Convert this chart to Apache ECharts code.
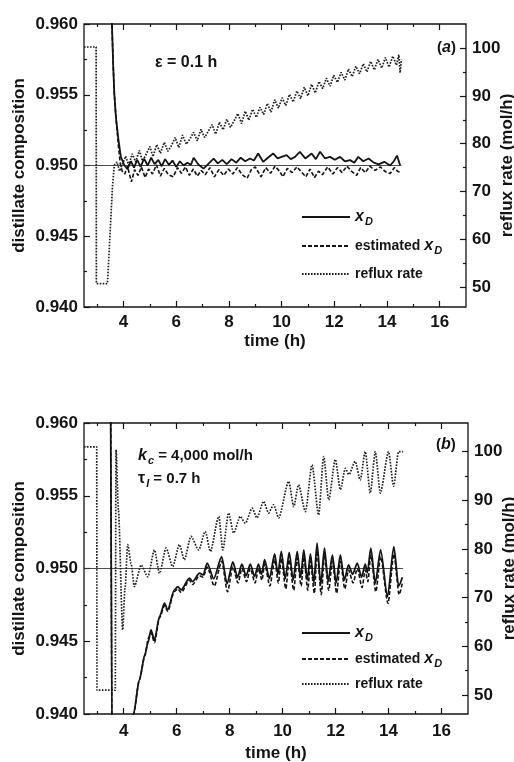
<!DOCTYPE html>
<html><head><meta charset="utf-8">
<script src="https://cdn.jsdelivr.net/npm/echarts@6/dist/echarts.min.js"></script>
<style>html,body{margin:0;padding:0;background:#fff}#c{width:514px;height:762px}</style>
</head><body><div id="c"></div>
<script>
// ---------- tick values ----------
const timeTicksMajor = [4, 6, 8, 10, 12, 14, 16];
const timeTicksMinor = [3, 5, 7, 9, 11, 13, 15];
const refluxTicksMajor = [50, 60, 70, 80, 90, 100];
const refluxTicksMinor = [55, 65, 75, 85, 95];

// ---------- panel (a) ----------
const setpointA = [[2.5, 0.950], [14.55, 0.950]];
const xdA = [[3.54,0.9625],[3.56,0.9600],[3.61,0.95698],[3.65,0.9551],[3.71,0.95344],[3.81,0.95179],[3.90,0.95061],[4.03,0.95002],
[4.15,0.94975],[4.28,0.95030],[4.40,0.94985],[4.52,0.95040],[4.65,0.94990],[4.78,0.95048],[4.92,0.95000],[5.05,0.95055],[5.18,0.95010],[5.32,0.95040],[5.45,0.94995],[5.58,0.95045],[5.72,0.95005],[5.86,0.95035],[6.00,0.94990],[6.14,0.95030],[6.28,0.95000],[6.42,0.95020],[6.56,0.95005],[6.66,0.95055],[6.85,0.95005],[7.04,0.94978],[7.22,0.95012],[7.42,0.95048],[7.58,0.95015],[7.75,0.95040],[7.92,0.95010],[8.10,0.95045],[8.28,0.95020],[8.45,0.95055],[8.62,0.95030],[8.80,0.95050],[8.95,0.95035],[9.11,0.95085],[9.30,0.95026],[9.48,0.95055],[9.68,0.95085],[9.85,0.95050],[10.00,0.95061],[10.19,0.95073],[10.35,0.95045],[10.50,0.95060],[10.69,0.95097],[10.90,0.95050],[11.14,0.95085],[11.30,0.95045],[11.46,0.95097],[11.65,0.95050],[11.84,0.95061],[12.02,0.95040],[12.22,0.95061],[12.40,0.95030],[12.60,0.95038],[12.76,0.95020],[12.91,0.95061],[13.10,0.95030],[13.30,0.95050],[13.50,0.95020],[13.68,0.95008],[13.90,0.95026],[14.12,0.95000],[14.26,0.95030],[14.38,0.95070],[14.50,0.95002]];
const estA = [[3.54,0.9625],[3.56,0.9600],[3.61,0.95698],[3.65,0.9551],[3.71,0.95344],[3.80,0.95150],[3.88,0.95010],[3.95,0.94960],
[4.05,0.94940],[4.15,0.94995],[4.30,0.94884],[4.42,0.94970],[4.55,0.94930],[4.68,0.94990],[4.82,0.94915],[4.95,0.94975],[5.10,0.94940],[5.25,0.95005],[5.40,0.94925],[5.55,0.94980],[5.70,0.94935],[5.89,0.94920],[6.05,0.94985],[6.20,0.94945],[6.35,0.94990],[6.50,0.94930],[6.65,0.94975],[6.80,0.94925],[6.95,0.94965],[7.10,0.94935],[7.28,0.94985],[7.45,0.94920],[7.62,0.94970],[7.80,0.94930],[7.98,0.94975],[8.15,0.94940],[8.32,0.94985],[8.50,0.94935],[8.69,0.94910],[8.85,0.94970],[9.00,0.94990],[9.22,0.94920],[9.40,0.94985],[9.58,0.94945],[9.75,0.94995],[9.92,0.94960],[10.05,0.94920],[10.22,0.94980],[10.40,0.94950],[10.58,0.94990],[10.75,0.94955],[10.92,0.94920],[11.08,0.94975],[11.25,0.94915],[11.40,0.94960],[11.55,0.94935],[11.75,0.94990],[11.95,0.94940],[12.12,0.94985],[12.30,0.94950],[12.48,0.94995],[12.65,0.94960],[12.85,0.94930],[13.00,0.94985],[13.18,0.94950],[13.35,0.94995],[13.55,0.94965],[13.75,0.94990],[13.95,0.94955],[14.12,0.94943],[14.28,0.94985],[14.40,0.94960],[14.52,0.94950]];
const refluxA = [[2.50,100.2],[2.96,100.2],[2.97,50.8],[3.39,50.8],[3.45,57.0],[3.52,64.7],[3.58,71.0],[3.65,75.5],[3.75,76.2],[3.85,74.3],
[3.95,75.6],[4.08,77.4],[4.20,75.5],[4.33,77.9],[4.46,76.2],[4.60,78.6],[4.72,76.4],[4.86,77.8],[5.00,79.4],[5.12,77.3],[5.26,79.8],[5.40,78.0],[5.55,80.3],[5.68,78.4],[5.82,79.6],[5.96,81.3],[6.10,79.2],[6.24,81.8],[6.38,79.9],[6.52,81.0],[6.66,82.4],[6.80,80.6],[6.94,83.0],[7.08,81.3],[7.22,82.6],[7.36,84.0],[7.50,82.0],[7.64,84.5],[7.78,82.9],[7.92,85.1],[8.06,83.4],[8.20,84.8],[8.34,86.3],[8.48,84.2],[8.62,86.8],[8.76,84.9],[8.90,87.2],[9.04,85.5],[9.18,87.6],[9.32,86.1],[9.46,88.4],[9.60,86.6],[9.74,89.2],[9.88,87.4],[10.02,89.6],[10.16,88.0],[10.30,90.3],[10.44,88.7],[10.58,91.0],[10.72,89.4],[10.86,91.8],[11.00,90.0],[11.14,92.4],[11.28,90.6],[11.42,93.0],[11.56,91.5],[11.70,93.7],[11.84,92.0],[11.98,94.3],[12.12,92.8],[12.26,94.9],[12.40,93.3],[12.54,95.6],[12.68,94.0],[12.82,96.2],[12.96,94.6],[13.10,96.7],[13.24,95.0],[13.38,97.2],[13.52,95.4],[13.66,97.6],[13.80,95.8],[13.94,98.0],[14.08,96.0],[14.22,98.3],[14.36,96.4],[14.45,98.6],[14.50,94.8],[14.55,97.6]];

// ---------- panel (b) ----------
const setpointB = [[2.5, 0.950], [14.55, 0.950]];
const xdB = [[3.50,0.9650],[3.57,0.9350],[4.20,0.9360],[4.37,0.9400],[4.59,0.94234],[4.80,0.94410],[4.91,0.94486],[5.03,0.94578],[5.16,0.94509],[5.35,0.94669],[5.54,0.94762],[5.66,0.94716],[5.91,0.94853],[6.04,0.94876],[6.17,0.94853],[6.48,0.94934],[6.60,0.94910],[6.86,0.94968],[7.00,0.94955],[7.15,0.95037],[7.40,0.94930],[7.70,0.95082],[7.90,0.94895],[8.12,0.95045],[8.30,0.94940],[8.46,0.95030],[8.62,0.94950],[8.78,0.95030],[8.94,0.94945],[9.09,0.95030],[9.20,0.94960],[9.32,0.95060],[9.50,0.94930],[9.70,0.95100],[9.82,0.94960],[9.95,0.95117],[10.10,0.94930],[10.25,0.95110],[10.40,0.94920],[10.55,0.95117],[10.68,0.94940],[10.80,0.95128],[10.93,0.94920],[11.05,0.95100],[11.18,0.94900],[11.30,0.95174],[11.44,0.94890],[11.58,0.95140],[11.72,0.94910],[11.88,0.95094],[12.02,0.94900],[12.18,0.95094],[12.33,0.94920],[12.49,0.95025],[12.64,0.94960],[12.82,0.95037],[12.98,0.94940],[13.12,0.95030],[13.20,0.94970],[13.33,0.95140],[13.50,0.94900],[13.70,0.95128],[13.96,0.94807],[14.20,0.95151],[14.38,0.94880],[14.52,0.94940]];
const estB = [[3.50,0.9650],[3.57,0.9350],[4.20,0.9360],[4.37,0.9400],[4.59,0.94234],[4.80,0.94400],[4.93,0.94520],[5.03,0.94560],[5.16,0.94490],[5.35,0.94660],[5.54,0.94745],[5.66,0.94705],[5.91,0.94840],[6.04,0.94860],[6.17,0.94835],[6.48,0.94920],[6.60,0.94890],[6.86,0.94950],[7.00,0.94940],[7.15,0.95010],[7.42,0.94880],[7.70,0.95050],[7.92,0.94840],[8.12,0.95010],[8.32,0.94900],[8.46,0.95000],[8.64,0.94910],[8.78,0.95000],[8.96,0.94900],[9.09,0.95000],[9.22,0.94920],[9.32,0.95030],[9.52,0.94880],[9.70,0.95060],[9.84,0.94900],[9.95,0.95070],[10.12,0.94860],[10.25,0.95060],[10.42,0.94850],[10.55,0.95070],[10.70,0.94880],[10.80,0.95080],[10.95,0.94850],[11.05,0.95050],[11.20,0.94830],[11.30,0.95120],[11.46,0.94820],[11.58,0.95090],[11.74,0.94850],[11.88,0.95050],[12.04,0.94830],[12.18,0.95050],[12.35,0.94860],[12.49,0.94990],[12.66,0.94900],[12.82,0.95000],[13.00,0.94870],[13.12,0.94990],[13.22,0.94910],[13.33,0.95090],[13.52,0.94840],[13.70,0.95080],[13.98,0.94760],[14.20,0.95100],[14.40,0.94820],[14.52,0.94900]];
const refluxB = [[2.50,101.0],[2.98,101.0],[2.99,51.0],[3.68,51.0],[3.71,100.4],[3.80,88.0],[3.96,63.4],[4.05,72.0],[4.15,80.9],[4.28,77.0],[4.40,72.3],[4.66,76.7],[4.91,74.3],[5.16,79.8],[5.35,75.0],[5.60,80.2],[5.85,76.4],[6.10,80.9],[6.29,77.8],[6.54,82.6],[6.83,79.8],[7.08,83.6],[7.27,79.5],[7.59,86.7],[7.74,79.8],[7.96,87.4],[8.15,83.3],[8.40,86.7],[8.59,85.3],[8.85,88.4],[9.03,86.4],[9.28,89.8],[9.47,87.4],[9.66,89.1],[9.85,86.4],[10.23,93.9],[10.42,88.7],[10.60,93.2],[10.86,87.7],[11.11,97.3],[11.36,87.0],[11.55,99.0],[11.74,90.1],[11.99,98.4],[12.18,92.2],[12.37,96.6],[12.50,95.3],[12.74,98.0],[12.93,94.2],[13.12,100.0],[13.31,91.5],[13.50,100.0],[13.69,91.5],[14.00,100.0],[14.19,92.9],[14.38,100.0],[14.55,100.0]];

// ---------- styling ----------
const FF = '"Liberation Sans", Arial, Helvetica, sans-serif';
const INK = '#141414';
const txt = {color: INK, fontFamily: FF, fontWeight: 'bold', fontSize: 17};
const tickLine = {color: INK, width: 1.2};

function xAxesFor(g, labelMargin, nameGap) {
  const base = {gridIndex: g, type: 'value', min: 2.5, max: 17, axisLine: {show: false}, splitLine: {show: false}};
  return [
    Object.assign({}, base, {position: 'bottom', name: 'time (h)', nameLocation: 'middle', nameGap: nameGap,
      nameMoveOverlap: false, nameTextStyle: txt,
      axisTick: {inside: true, length: 6, customValues: timeTicksMajor, lineStyle: tickLine},
      axisLabel: Object.assign({customValues: timeTicksMajor, margin: labelMargin}, txt)}),
    Object.assign({}, base, {position: 'bottom', axisLabel: {show: false},
      axisTick: {inside: true, length: 3, customValues: timeTicksMinor, lineStyle: tickLine}}),
    Object.assign({}, base, {position: 'top', axisLabel: {show: false},
      axisTick: {inside: true, length: 6, customValues: timeTicksMajor, lineStyle: tickLine}}),
    Object.assign({}, base, {position: 'top', axisLabel: {show: false},
      axisTick: {inside: true, length: 3, customValues: timeTicksMinor, lineStyle: tickLine}})
  ];
}
function yAxesFor(g, rMin, rMax) {
  return [
    {gridIndex: g, type: 'value', min: 0.94, max: 0.96, interval: 0.005, position: 'left',
      name: 'distillate composition', nameLocation: 'middle', nameRotate: 90, nameGap: 56,
      nameMoveOverlap: false, nameTextStyle: txt,
      axisLine: {show: false}, splitLine: {show: false},
      axisTick: {inside: true, length: 6, lineStyle: tickLine},
      minorTick: {show: true, splitNumber: 2, length: 3, lineStyle: tickLine},
      axisLabel: Object.assign({margin: 6, formatter: v => v.toFixed(3)}, txt)},
    {gridIndex: g, type: 'value', min: rMin, max: rMax, position: 'right',
      name: 'reflux rate (mol/h)', nameLocation: 'middle', nameRotate: 90, nameGap: 33,
      nameMoveOverlap: false, nameTextStyle: txt,
      axisLine: {show: false}, splitLine: {show: false},
      axisTick: {inside: true, length: 6, customValues: refluxTicksMajor, lineStyle: tickLine},
      axisLabel: Object.assign({customValues: refluxTicksMajor, margin: 6}, txt)},
    {gridIndex: g, type: 'value', min: rMin, max: rMax, position: 'right',
      axisLine: {show: false}, splitLine: {show: false}, axisLabel: {show: false},
      axisTick: {inside: true, length: 3, customValues: refluxTicksMinor, lineStyle: tickLine}}
  ];
}
function seriesFor(xi, yl, yr, sp, xd, est, rf, smooth) {
  const common = {type: 'line', symbol: 'none', showSymbol: false, xAxisIndex: xi, clip: true,
    smooth: smooth, smoothMonotone: 'x', animation: false, itemStyle: {color: INK}};
  return [
    Object.assign({}, common, {name: 'setpoint', yAxisIndex: yl, data: sp, smooth: false, z: 1,
      lineStyle: {color: '#3a3a3a', width: 0.9}}),
    Object.assign({}, common, {name: 'reflux rate', yAxisIndex: yr, data: rf, z: 2,
      lineStyle: {color: '#1e1e1e', width: 1.7, type: [1.6, 1.4]}}),
    Object.assign({}, common, {name: 'estimated x_D', yAxisIndex: yl, data: est, z: 3,
      lineStyle: {color: INK, width: 1.6, type: [4, 2]}}),
    Object.assign({}, common, {name: 'x_D', yAxisIndex: yl, data: xd, z: 4,
      lineStyle: {color: INK, width: 1.8, type: 'solid'}})
  ];
}
const legendText = {'x_D': '{i|x}{s|D}', 'estimated x_D': 'estimated {i|x}{s|D}', 'reflux rate': 'reflux rate'};
const rich = {
  i: {fontFamily: FF, fontWeight: 'bold', fontStyle: 'italic', fontSize: 16, color: INK},
  s: {fontFamily: FF, fontWeight: 'bold', fontStyle: 'italic', fontSize: 11, color: INK, padding: [9, 0, 0, 1]},
  g: {fontFamily: FF, fontWeight: 'bold', fontSize: 16, color: INK}
};
function legendFor(top, gap) {
  return {data: ['x_D', 'estimated x_D', 'reflux rate'], orient: 'vertical', left: 301, top: top,
    itemWidth: 48, itemHeight: 12, itemGap: gap, selectedMode: false, padding: 0,
    itemStyle: {opacity: 0, borderWidth: 0},
    formatter: n => legendText[n],
    textStyle: {fontFamily: FF, fontWeight: 'bold', fontSize: 14, color: INK, rich: rich}};
}

const chart = echarts.init(document.getElementById('c'), null, {renderer: 'canvas'});
chart.setOption({
  backgroundColor: '#ffffff',
  animation: false,
  grid: [
    {left: 84, right: 48, top: 24, bottom: 455, show: true, borderColor: INK, borderWidth: 1.3, containLabel: false, outerBoundsMode: 'none'},
    {left: 84, right: 46, top: 423, bottom: 48, show: true, borderColor: INK, borderWidth: 1.3, containLabel: false, outerBoundsMode: 'none'}
  ],
  xAxis: xAxesFor(0, 7, 26).concat(xAxesFor(1, 9, 31)),
  yAxis: yAxesFor(0, 45.9, 105).concat(yAxesFor(1, 46.1, 105.9)),
  legend: [legendFor(209, 11), legendFor(625, 8)],
  series: seriesFor(0, 0, 1, setpointA, xdA, estA, refluxA, false)
    .concat(seriesFor(4, 3, 4, setpointB, xdB, estB, refluxB, 0.25)),
  graphic: [
    {type: 'text', left: 155, top: 55, style: {text: 'ε = 0.1 h', font: 'bold 16px ' + FF, fill: INK}},
    {type: 'text', left: 437, top: 40, style: {text: '({i|a})', font: 'bold 15px ' + FF, fill: INK, rich: rich}},
    {type: 'text', left: 138, top: 448, style: {text: '{i|k}{s|c} = 4,000 mol/h', font: 'bold 15px ' + FF, fill: INK, rich: rich}},
    {type: 'text', left: 138, top: 471, style: {text: '{g|τ}{s|I} = 0.7 h', font: 'bold 15px ' + FF, fill: INK, rich: rich}},
    {type: 'text', left: 436, top: 437, style: {text: '({i|b})', font: 'bold 15px ' + FF, fill: INK, rich: rich}}
  ]
});
</script></body></html>
